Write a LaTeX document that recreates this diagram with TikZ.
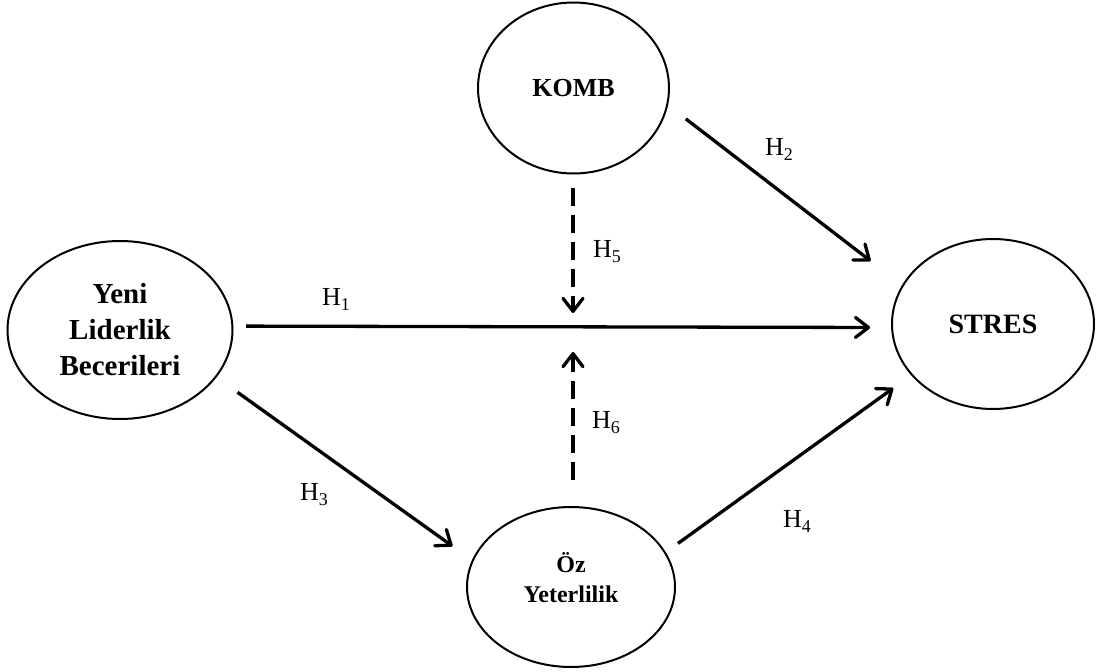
\documentclass[tikz,border=0pt]{standalone}
\usepackage{fontspec}
\setmainfont{Liberation Serif}
\usetikzlibrary{shapes.geometric,arrows.meta}
% lowered index of a hypothesis label
\newcommand\hypidx[1]{\raisebox{-5pt}{\fontsize{18}{18}\selectfont #1}}
\begin{document}
\begin{tikzpicture}[x=1pt,y=-1pt,
  construct/.style={ellipse,draw,line width=2pt,inner sep=0pt,outer sep=0pt,align=center},
  path arrow/.style={line width=3.3pt,-{Straight Barb[length=13pt,width=20pt,round]}},
  moderator/.style={path arrow,dash pattern=on 18pt off 9pt},
  hyp/.style={anchor=base west,inner sep=0pt,font=\fontsize{26}{28}\selectfont}]
\useasboundingbox (0,0) rectangle (1096,672);

% constructs
\node[construct,minimum width=191pt,minimum height=171pt,
      font=\bfseries\fontsize{26}{30}\selectfont] (komb) at (573.5,88) {KOMB};
\node[construct,minimum width=225pt,minimum height=178pt,
      font=\bfseries\fontsize{29}{36}\selectfont] (yeni) at (120,330) {Yeni\\Liderlik\\Becerileri};
\node[construct,minimum width=202pt,minimum height=170pt,
      font=\bfseries\fontsize{28}{32}\selectfont] (stres) at (993,324) {STRES};
% the empty last line lifts the two text lines a little above the centre
\node[construct,minimum width=208pt,minimum height=160pt,
      font=\bfseries\fontsize{24}{30}\selectfont] (oz) at (571,587) {Öz\\Yeterlilik\\[-12pt]\mbox{}};

% free ends of the moderating arrows
\coordinate (m5) at (573,313);
\coordinate (m6) at (573,352);

% direct paths
\draw[path arrow,shorten <=13.7pt,shorten >=22pt] (yeni.2.5) -- (stres.182.3);
\draw[path arrow,shorten <=23.5pt,shorten >=40.7pt] (komb.-10.8) -- (stres.157.7);
\draw[path arrow,shorten <=26.8pt,shorten >=25pt] (yeni.-26.5) -- (oz.165.6);
\draw[path arrow,shorten <=16pt,shorten >=23pt] (oz.20.2) -- (stres.-148.2);

% moderating paths
\draw[moderator,shorten <=14pt] (m5 |- komb.south) -- (m5);
\draw[moderator,shorten <=27pt] (m6 |- oz.north) -- (m6);

% hypothesis labels
\node[hyp] (h1) at (322,305) {H\hypidx{1}};
\node[hyp] (h2) at (765,155) {H\hypidx{2}};
\node[hyp] (h3) at (300,500) {H\hypidx{3}};
\node[hyp] (h4) at (783,527) {H\hypidx{4}};
\node[hyp] (h5) at (593,257) {H\hypidx{5}};
\node[hyp] (h6) at (592,428) {H\hypidx{6}};
\end{tikzpicture}
\end{document}
